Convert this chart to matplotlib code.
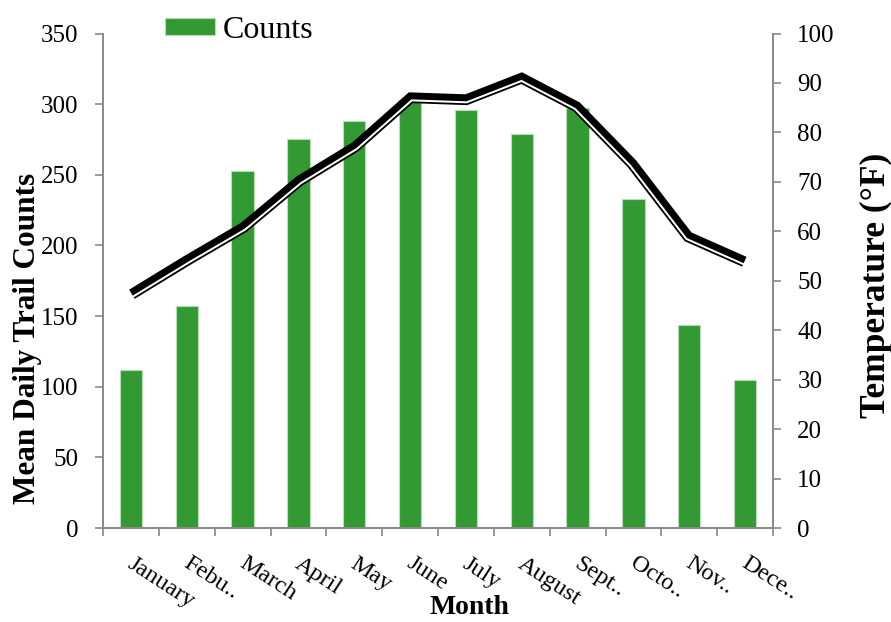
import numpy as np
import matplotlib
matplotlib.use("Agg")
import matplotlib.pyplot as plt
import matplotlib.patheffects as pe
from matplotlib.path import Path
from matplotlib.transforms import IdentityTransform

plt.rcParams["font.family"] = ["Liberation Serif", "DejaVu Serif"]

# Monthly trail counts and mean temperature
months = ["January", "Febu..", "March", "April", "May", "June",
          "July", "August", "Sept..", "Octo..", "Nov..", "Dece.."]
mean_counts = [112, 157, 253, 275, 288, 303, 296, 279, 297, 233, 144, 105]
mean_temp_f = [47.6, 54.5, 61.1, 70.5, 77.4, 87.4, 87.0, 91.4, 85.5, 73.9, 59.2, 54.2]

BAR_GREEN = "#339933"
AXIS_GREY = "#898989"


class ParallelStroke(pe.AbstractPathEffect):
    """Draws a copy of the line shifted perpendicular to itself (in points,
    positive = right-hand side / below), for a 'thick-thin' compound line."""

    def __init__(self, shift, **kwargs):
        super().__init__()
        self._shift = shift
        self._gc = kwargs

    def draw_path(self, renderer, gc, tpath, affine, rgbFace=None):
        v = affine.transform(tpath.vertices)
        d = renderer.points_to_pixels(self._shift)
        seg = np.diff(v, axis=0)
        seg = seg / np.hypot(seg[:, 0], seg[:, 1])[:, None]
        normals = np.column_stack([seg[:, 1], -seg[:, 0]])
        out = np.empty_like(v)
        out[0] = v[0] + normals[0] * d
        out[-1] = v[-1] + normals[-1] * d
        for i in range(1, len(v) - 1):
            m = normals[i - 1] + normals[i]
            m = m / np.hypot(*m)
            out[i] = v[i] + m * d / np.dot(m, normals[i])
        gc0 = renderer.new_gc()
        gc0.copy_properties(gc)
        gc0 = self._update_gc(gc0, self._gc)
        renderer.draw_path(gc0, Path(out), IdentityTransform())
        gc0.restore()


x = np.arange(len(months))

fig = plt.figure(figsize=(8.91, 6.22), dpi=100)
ax = fig.add_axes([0.1156, 0.1511, 0.7520, 0.7950])
ax2 = ax.twinx()

bars = ax.bar(x, mean_counts, width=0.4, color=BAR_GREEN,
              edgecolor="#b7ddb7", linewidth=0.8, label="Counts", zorder=2)

ax2.plot(x, mean_temp_f, color="black", linewidth=5,
         solid_joinstyle="miter", solid_capstyle="butt",
         path_effects=[
             ParallelStroke(3.0, linewidth=4.0, foreground="white"),
             ParallelStroke(4.6, linewidth=1.3, foreground="black"),
             pe.Normal(),
         ])

ax.set_xlim(-0.5, len(months) - 0.5)
ax.set_ylim(0, 350)
ax.set_yticks(np.arange(0, 351, 50))
ax2.set_ylim(0, 100)
ax2.set_yticks(np.arange(0, 101, 10))

# ticks sit on category boundaries, labels at the bar centres
ax.set_xticks(np.arange(-0.5, len(months), 1.0))
ax.set_xticklabels([])
ax.set_xticks(x + 0.07, minor=True)
ax.set_xticklabels(months, minor=True, rotation=-33, ha="left",
                   va="top", rotation_mode="anchor", fontsize=17.5)
ax.tick_params(axis="x", which="minor", length=0, pad=18)

for a in (ax, ax2):
    a.tick_params(axis="both", which="major", color=AXIS_GREY,
                  length=5.5, width=1.2, direction="out", labelsize=18, pad=12)
    a.spines["top"].set_visible(False)
    for s in ("left", "right", "bottom"):
        a.spines[s].set_color(AXIS_GREY)
        a.spines[s].set_linewidth(1.4)
ax.spines["right"].set_visible(False)
ax2.spines["left"].set_visible(False)
ax2.spines["bottom"].set_visible(False)

fig.text(28 / 891, 1 - 338 / 622, "Mean Daily Trail Counts", rotation=90,
         ha="center", va="center", fontsize=22.5, fontweight="bold")
fig.text(876 / 891, 1 - 285 / 622, "Temperature (°F)", rotation=90,
         ha="center", va="center", fontsize=25.5, fontweight="bold")
fig.text(469 / 891, 1 - 608 / 622, "Month", ha="center", va="center",
         fontsize=20, fontweight="bold")

fig.legend(handles=[bars], labels=["Counts"], loc="upper left",
           bbox_to_anchor=(143 / 891, 1.01), frameon=False, fontsize=23,
           handlelength=1.55, handleheight=0.42, handletextpad=0.25,
           borderpad=0.2)

fig.savefig("out.png", dpi=100)
